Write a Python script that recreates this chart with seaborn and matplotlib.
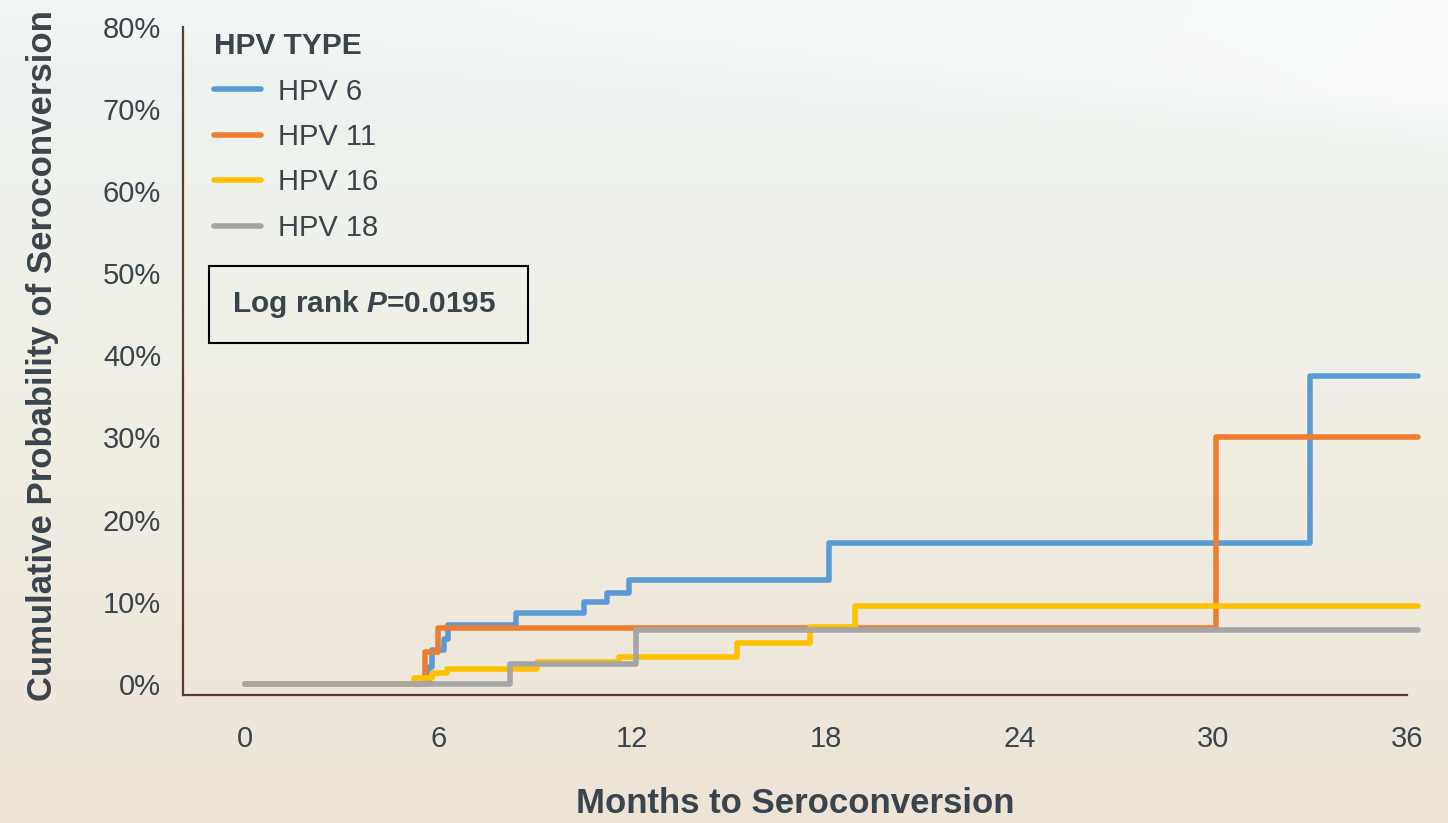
import numpy as np
import pandas as pd
import seaborn as sns
import matplotlib.pyplot as plt
from matplotlib.patches import Rectangle
from matplotlib.ticker import PercentFormatter

# steps (months, cumulative % after each step)
hpv6_months = [0, 5.7, 5.8, 6.15, 6.3, 8.4, 10.5, 11.2, 11.9, 18.1, 33.0, 36.35]
hpv6_pct = [0, 2.0, 4.1, 5.4, 7.1, 8.6, 9.9, 11.1, 12.7, 17.2, 37.5, 37.5]
hpv11_months = [0, 5.57, 5.98, 30.08, 36.35]
hpv11_pct = [0, 3.9, 6.8, 30.0, 30.0]
hpv16_months = [0, 5.25, 5.8, 6.25, 9.05, 11.6, 15.25, 17.5, 18.9, 36.35]
hpv16_pct = [0, 0.7, 1.3, 1.8, 2.7, 3.3, 5.0, 6.9, 9.5, 9.5]
hpv18_months = [0, 8.2, 12.1, 36.35]
hpv18_pct = [0, 2.4, 6.6, 6.6]

type_labels = ['HPV 6', 'HPV 11', 'HPV 16', 'HPV 18']
type_colors = ['#5b9bd5', '#ed7d31', '#ffc000', '#a5a5a5']
x_ticks = [0, 6, 12, 18, 24, 30, 36]
y_ticks = [0, 10, 20, 30, 40, 50, 60, 70, 80]

frames = []
for lab, m, p in zip(type_labels,
                     [hpv6_months, hpv11_months, hpv16_months, hpv18_months],
                     [hpv6_pct, hpv11_pct, hpv16_pct, hpv18_pct]):
    frames.append(pd.DataFrame({'month': m, 'pct': p, 'type': lab}))
df = pd.concat(frames, ignore_index=True)

sns.set_style('white')
plt.rcParams['font.family'] = ['Liberation Sans', 'DejaVu Sans']
plt.rcParams['mathtext.fontset'] = 'custom'
plt.rcParams['mathtext.rm'] = 'Liberation Sans:bold'
plt.rcParams['mathtext.it'] = 'Liberation Sans:italic:bold'
text_color = '#39444c'
spine_color = '#5b3b2e'

fig = plt.figure(figsize=(14.48, 8.23), dpi=100)

# background wash
bg = fig.add_axes([0, 0, 1, 1], zorder=-10)
h, w = 200, 300
yy, xx = np.mgrid[0:1:h * 1j, 0:1:w * 1j]
top = np.array([0.925, 0.960, 0.950])
mid = np.array([0.945, 0.935, 0.895])
bot = np.array([0.930, 0.890, 0.840])
t = yy[..., None]
grad = np.where(t < 0.5, top + (mid - top) * (t / 0.5), mid + (bot - mid) * ((t - 0.5) / 0.5))
curve = 0.01 + 0.11 * xx ** 1.6
glow = np.clip(1 - np.abs(yy - curve) / 0.08, 0, 1)[..., None] * 0.6
glow = np.where((yy < curve)[..., None], 0.6, glow)
grad = grad + (1 - grad) * glow * (0.3 + 0.7 * xx[..., None])
bg.imshow(np.clip(grad, 0, 1), aspect='auto', extent=[0, 1, 0, 1])
bg.axis('off')

ax = fig.add_axes([0.1262, 0.1552, 0.8455, 0.812])
ax.set_facecolor('none')

sns.lineplot(data=df, x='month', y='pct', hue='type', hue_order=type_labels,
             palette=type_colors, estimator=None, drawstyle='steps-post',
             linewidth=4.0, clip_on=False, ax=ax)

ax.set_xlim(-1.93, 36)
ax.set_ylim(-1.4, 80)
ax.set_xticks(x_ticks)
ax.set_yticks(y_ticks)
ax.yaxis.set_major_formatter(PercentFormatter(xmax=100, decimals=0))
sns.despine(ax=ax)
for s in ['left', 'bottom']:
    ax.spines[s].set_color(spine_color)
    ax.spines[s].set_linewidth(1.6)
ax.tick_params(axis='x', direction='out', length=8.5, width=1.5, color=spine_color,
               pad=13, labelsize=21, labelcolor=text_color)
ax.tick_params(axis='y', direction='out', length=5.5, width=1.5, color=spine_color,
               pad=10, labelsize=21, labelcolor=text_color)

ax.set_xlabel('Months to Seroconversion', fontsize=25, fontweight='bold', color=text_color)
ax.set_ylabel('Cumulative Probability of Seroconversion', fontsize=25, fontweight='bold',
              color=text_color)
ax.xaxis.set_label_coords(0.5, -0.137)
ax.xaxis.label.set_va('top')
ax.yaxis.set_label_coords(-0.101, 0.509)

handles, labels = ax.get_legend_handles_labels()
leg = ax.legend(handles, labels, title='HPV TYPE', loc='upper left',
                bbox_to_anchor=(214 / 1448, 1 - 32 / 823), bbox_transform=fig.transFigure,
                frameon=False, borderpad=0, borderaxespad=0, handlelength=1.6,
                handletextpad=0.6, labelspacing=0.6, alignment='left',
                prop={'size': 21}, title_fontproperties={'size': 21.5, 'weight': 'bold'})
leg.get_title().set_color(text_color)
for txt in leg.get_texts():
    txt.set_color(text_color)

fig.patches.append(Rectangle((209 / 1448, 1 - 343 / 823), 319 / 1448, 77 / 823,
                             transform=fig.transFigure, fill=False,
                             edgecolor='black', linewidth=1.5))
fig.text(364 / 1448, 1 - 304.5 / 823, 'Log rank $P$=0.0195', ha='center', va='center',
         fontsize=21.5, fontweight='bold', color=text_color)

fig.savefig('out.png', dpi=100)
